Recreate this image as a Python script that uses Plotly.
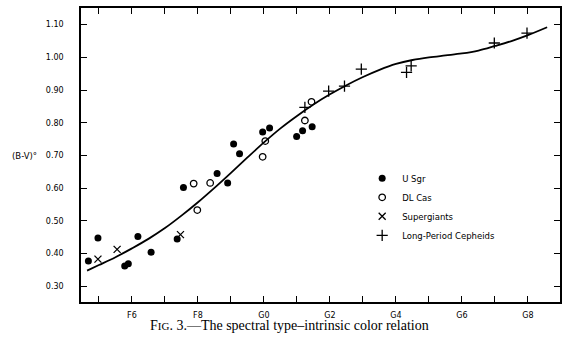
import plotly.graph_objects as go

# Spectral type encoded numerically: F6=6, F8=8, G0=10, G2=12 ... G8=18
usgr_x = [4.68, 4.97, 5.78, 5.89, 6.18, 6.58, 7.37, 7.56, 8.58, 8.90, 9.08, 9.26, 9.96, 10.17, 10.99, 11.17, 11.46]
usgr_y = [0.377, 0.448, 0.362, 0.369, 0.452, 0.404, 0.445, 0.602, 0.645, 0.616, 0.735, 0.705, 0.772, 0.784, 0.758, 0.776, 0.788]

dlcas_x = [7.87, 7.98, 8.37, 9.96, 10.04, 11.24, 11.44]
dlcas_y = [0.614, 0.533, 0.616, 0.696, 0.744, 0.807, 0.864]

superg_x = [4.97, 5.55, 7.47]
superg_y = [0.383, 0.413, 0.458]

ceph_x = [11.24, 11.96, 12.44, 12.95, 14.32, 14.46, 16.98, 17.97]
ceph_y = [0.847, 0.897, 0.912, 0.964, 0.954, 0.974, 1.044, 1.074]

curve_x = [4.64, 5.0, 5.5, 6.0, 6.5, 7.0, 7.5, 8.0, 8.5, 9.0, 9.5, 10.0, 10.5, 11.0, 11.5,
           12.0, 12.5, 13.0, 13.5, 14.0, 14.5, 15.0, 15.5, 16.0, 16.5, 17.0, 17.5, 18.0, 18.58]
curve_y = [0.348, 0.365, 0.389, 0.416, 0.445, 0.478, 0.516, 0.557, 0.601, 0.647, 0.694, 0.740, 0.783, 0.821, 0.856,
           0.887, 0.915, 0.940, 0.962, 0.980, 0.992, 1.000, 1.006, 1.012, 1.021, 1.035, 1.050, 1.068, 1.092]

x_tickvals = list(range(5, 19))
x_ticktext = ["", "F6", "", "F8", "", "G0", "", "G2", "", "G4", "", "G6", "", "G8"]
y_tickvals = [0.30, 0.40, 0.50, 0.60, 0.70, 0.80, 0.90, 1.00, 1.10]
y_ticktext = ["0.30", "0.40", "0.50", "0.60", "0.70", "0.80", "0.90", "1.00", "1.10"]

fig = go.Figure()
fig.add_trace(go.Scatter(x=curve_x, y=curve_y, mode="lines", line=dict(color="black", width=1.8, shape="spline", smoothing=1.0),
                         showlegend=False, hoverinfo="skip"))
fig.add_trace(go.Scatter(x=usgr_x, y=usgr_y, mode="markers", name="U Sgr",
                         marker=dict(symbol="circle", size=7, color="black")))
fig.add_trace(go.Scatter(x=dlcas_x, y=dlcas_y, mode="markers", name="DL Cas",
                         marker=dict(symbol="circle-open", size=6.5, color="black", line=dict(width=1.3))))
fig.add_trace(go.Scatter(x=superg_x, y=superg_y, mode="markers", name="Supergiants",
                         marker=dict(symbol="x-thin-open", size=7, color="black", line=dict(width=1.3))))
fig.add_trace(go.Scatter(x=ceph_x, y=ceph_y, mode="markers", name="Long-Period Cepheids",
                         marker=dict(symbol="cross-thin-open", size=8, color="black", line=dict(width=1.3))))

axis_font = dict(family="DejaVu Sans", size=8, color="black")
fig.update_xaxes(range=[4.456, 18.97], tickvals=x_tickvals, ticktext=x_ticktext, ticks="inside", ticklen=6,
                 tickwidth=1.3, tickcolor="black", showline=True, linecolor="black", linewidth=1.8,
                 mirror="allticks", showgrid=False, zeroline=False, tickfont=axis_font, ticklabelstandoff=4)
fig.update_yaxes(range=[0.252, 1.151], tickvals=y_tickvals, ticktext=y_ticktext, ticks="inside", ticklen=6,
                 tickwidth=1.3, tickcolor="black", showline=True, linecolor="black", linewidth=1.5,
                 mirror="allticks", showgrid=False, zeroline=False, tickfont=axis_font, ticklabelstandoff=14)

fig.update_layout(
    width=570, height=346,
    margin=dict(l=81, r=10, t=6, b=44),
    plot_bgcolor="white", paper_bgcolor="white",
    showlegend=True,
    legend=dict(x=0.587, y=0.47, xanchor="left", yanchor="top", bgcolor="rgba(0,0,0,0)",
                font=dict(family="DejaVu Sans", size=8.5, color="black"), itemwidth=30, tracegroupgap=0),
    annotations=[
        dict(text="(B-V)°", xref="paper", yref="paper", x=-0.118, y=0.497, xanchor="center", yanchor="middle",
             showarrow=False, font=dict(family="DejaVu Sans", size=8.5, color="black")),
        dict(text="F<span style='font-size:11px'>IG</span>. 3.—The spectral type–intrinsic color relation",
             xref="paper", yref="paper", x=0.435, y=0, yanchor="top", xanchor="center", yshift=-14,
             showarrow=False, font=dict(family="Liberation Serif", size=14, color="black")),
    ],
)
fig.write_html("out.html")
